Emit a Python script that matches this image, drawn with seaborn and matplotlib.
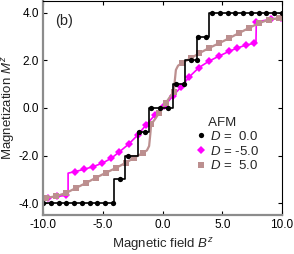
import numpy as np
import pandas as pd
import matplotlib
matplotlib.use("Agg")
import matplotlib.pyplot as plt
import seaborn as sns
from matplotlib.lines import Line2D
from matplotlib.ticker import FormatStrFormatter, FixedLocator

# ---------------- data ----------------
# D = 0.0 (black) : staircase, value holds from B[i] to B[i+1]
b0_line = [-10.0, -4.1, -3.1, -2.05, -1.1, 0.9, 1.9, 2.9, 3.9, 10.0]
m0_line = [-4.0, -3.0, -2.0, -1.0, 0.0, 1.0, 2.0, 3.0, 4.0, 4.0]
b0_pts = [-10.0, -9.35, -8.7, -8.05, -7.4, -6.75, -6.1, -5.45, -4.8, -4.15,
          -3.55, -2.9, -2.0, -1.45, -0.95, -0.25, 0.45, 1.15, 1.8, 2.35, 2.9,
          3.0, 3.65, 4.15, 4.8, 5.45, 6.1, 6.75, 7.4, 8.05, 8.7, 9.35, 10.0]
m0_pts = [-4.0, -4.0, -4.0, -4.0, -4.0, -4.0, -4.0, -4.0, -4.0, -4.0,
          -3.0, -2.0, -1.0, -1.0, 0.0, 0.0, 0.0, 1.0, 1.0, 2.0, 2.0,
          3.0, 3.0, 4.0, 4.0, 4.0, 4.0, 4.0, 4.0, 4.0, 4.0, 4.0, 4.0]

# D = -5.0 (magenta)
bm_line = [-10.0, -9.55, -8.8, -8.05, -7.9, -7.9, -7.36, -6.58, -5.83, -5.08,
           -4.3, -3.6, -2.83, -2.08, -1.39, -0.61, 0.14, 0.89, 1.55, 2.22,
           3.05, 3.89, 4.72, 5.56, 6.25, 6.95, 7.64, 7.82, 7.85, 9.05, 9.9, 10.0]
mm_line = [-3.80, -3.77, -3.72, -3.67, -3.66, -2.74, -2.68, -2.58, -2.47, -2.33,
           -2.12, -1.84, -1.52, -1.14, -0.72, -0.28, 0.07, 0.52, 0.88, 1.30,
           1.70, 1.97, 2.18, 2.38, 2.52, 2.64, 2.72, 2.74, 3.62, 3.73, 3.79, 3.80]
bm_pts = [-9.55, -8.8, -8.05, -7.36, -6.58, -5.83, -5.08, -4.3, -3.6, -2.83,
          -2.08, -1.39, -0.61, 0.14, 0.89, 1.55, 2.22, 3.05, 3.89, 4.72, 5.56,
          6.25, 6.95, 7.64, 7.85, 9.05, 9.9]
mm_pts = [-3.77, -3.72, -3.67, -2.68, -2.58, -2.47, -2.33, -2.12, -1.84, -1.52,
          -1.14, -0.72, -0.28, 0.07, 0.52, 0.88, 1.30, 1.70, 1.97, 2.18, 2.38,
          2.52, 2.64, 2.72, 3.62, 3.73, 3.79]

# D = 5.0 (rosy brown)
bb_line = [-10.0, -9.72, -8.9, -8.06, -7.22, -6.39, -5.56, -4.72, -3.89, -3.06,
           -2.36, -1.67, -1.3, -1.12, -1.02, -0.95, -0.6, 0.0, 0.6, 0.95, 1.02,
           1.12, 1.3, 1.67, 2.36, 3.06, 3.89, 4.72, 5.56, 6.39, 7.22, 8.06, 8.9,
           9.72, 10.0]
mb_line = [-3.80, -3.78, -3.71, -3.57, -3.36, -3.15, -2.93, -2.72, -2.52, -2.30,
           -2.09, -1.90, -1.78, -1.60, -1.10, -0.69, -0.45, 0.0, 0.45, 0.69, 1.10,
           1.60, 1.78, 1.90, 2.09, 2.30, 2.52, 2.72, 2.93, 3.15, 3.36, 3.57, 3.71,
           3.78, 3.80]
bb_pts = [-9.72, -8.9, -8.06, -7.22, -6.39, -5.56, -4.72, -3.89, -3.06, -2.36,
          -1.67, -0.95, -0.3, 0.3, 0.95, 1.67, 2.36, 3.06, 3.89, 4.72, 5.56,
          6.39, 7.22, 8.06, 8.9, 9.72]
mb_pts = [-3.78, -3.71, -3.57, -3.36, -3.15, -2.93, -2.72, -2.52, -2.30, -2.09,
          -1.90, -0.69, -0.22, 0.22, 0.69, 1.90, 2.09, 2.30, 2.52, 2.72, 2.93,
          3.15, 3.36, 3.57, 3.71, 3.78]

x_ticks = [-10.0, -5.0, 0.0, 5.0, 10.0]
y_ticks = [-4.0, -2.0, 0.0, 2.0, 4.0]
legend_labels = [r"$D$ =  0.0", r"$D$ = -5.0", r"$D$ =  5.0"]

# ---------------- style ----------------
sns.set_theme(style="ticks")
plt.rcParams["font.family"] = ["Liberation Sans", "DejaVu Sans"]
plt.rcParams["mathtext.fontset"] = "custom"
plt.rcParams["mathtext.rm"] = "Liberation Sans"
plt.rcParams["mathtext.it"] = "Liberation Sans:italic"
plt.rcParams["axes.unicode_minus"] = False

c_black = "#000000"
c_mag = "#ff00ff"
c_brown = "#bc8f8f"

fig = plt.figure(figsize=(2.94, 2.54), dpi=100)
ax = fig.add_axes([43 / 294, 1 - 215 / 254, 239 / 294, 214 / 254])

def draw(bl, ml, bp, mp, color, marker, ms, lw, steps=False):
    dfl = pd.DataFrame({"B": bl, "M": ml})
    kw = dict(drawstyle="steps-post") if steps else {}
    sns.lineplot(data=dfl, x="B", y="M", ax=ax, color=color, lw=lw,
                 estimator=None, sort=False, **kw)
    dfp = pd.DataFrame({"B": bp, "M": mp})
    sns.lineplot(data=dfp, x="B", y="M", ax=ax, color=color, linestyle="",
                 marker=marker, markersize=ms, markeredgewidth=0,
                 estimator=None, sort=False)

draw(bm_line, mm_line, bm_pts, mm_pts, c_mag, "D", 3.8, 1.2)
draw(bb_line, mb_line, bb_pts, mb_pts, c_brown, "s", 3.8, 1.6)
draw(b0_line, m0_line, b0_pts, m0_pts, c_black, "o", 3.8, 1.2, steps=True)

ax.set_xlim(-10, 10)
ax.set_ylim(-4.5, 4.5)
ax.xaxis.set_major_locator(FixedLocator(x_ticks))
ax.yaxis.set_major_locator(FixedLocator(y_ticks))
ax.xaxis.set_major_formatter(FormatStrFormatter("%.1f"))
ax.yaxis.set_major_formatter(FormatStrFormatter("%.1f"))
ax.tick_params(direction="in", length=3, width=0.8, colors="black",
               labelsize=8.5, top=True, right=True, pad=3)

for s in ["left", "bottom"]:
    ax.spines[s].set_color("#8c8c8c")
    ax.spines[s].set_linewidth(1.6)
for s in ["top", "right"]:
    ax.spines[s].set_color("black")
    ax.spines[s].set_linewidth(0.8)

ax.set_xlabel(r"Magnetic field $B^z$", fontsize=9.5)
ax.set_ylabel(r"Magnetization $M^z$", fontsize=9.5)
ax.xaxis.set_label_coords(0.5, (215 - 236) / 214)
ax.yaxis.set_label_coords((17 - 43) / 239, 0.5)
ax.text(0.05, 0.905, "(b)", transform=ax.transAxes, fontsize=10.5,
        ha="left", va="center")

handles = [
    Line2D([], [], color=c_black, marker="o", linestyle="None", markersize=3.8, markeredgewidth=0),
    Line2D([], [], color=c_mag, marker="D", linestyle="None", markersize=3.8, markeredgewidth=0),
    Line2D([], [], color=c_brown, marker="s", linestyle="None", markersize=3.8, markeredgewidth=0),
]
leg = ax.legend(handles, legend_labels, title="   AFM", loc="center",
                bbox_to_anchor=(0.775, 0.33), frameon=False, fontsize=9.5,
                title_fontsize=9.5, handlelength=0.5, handletextpad=0.4,
                labelspacing=0.12, borderpad=0.1)
leg._legend_box.align = "left"

fig.savefig("out.png", dpi=100)
